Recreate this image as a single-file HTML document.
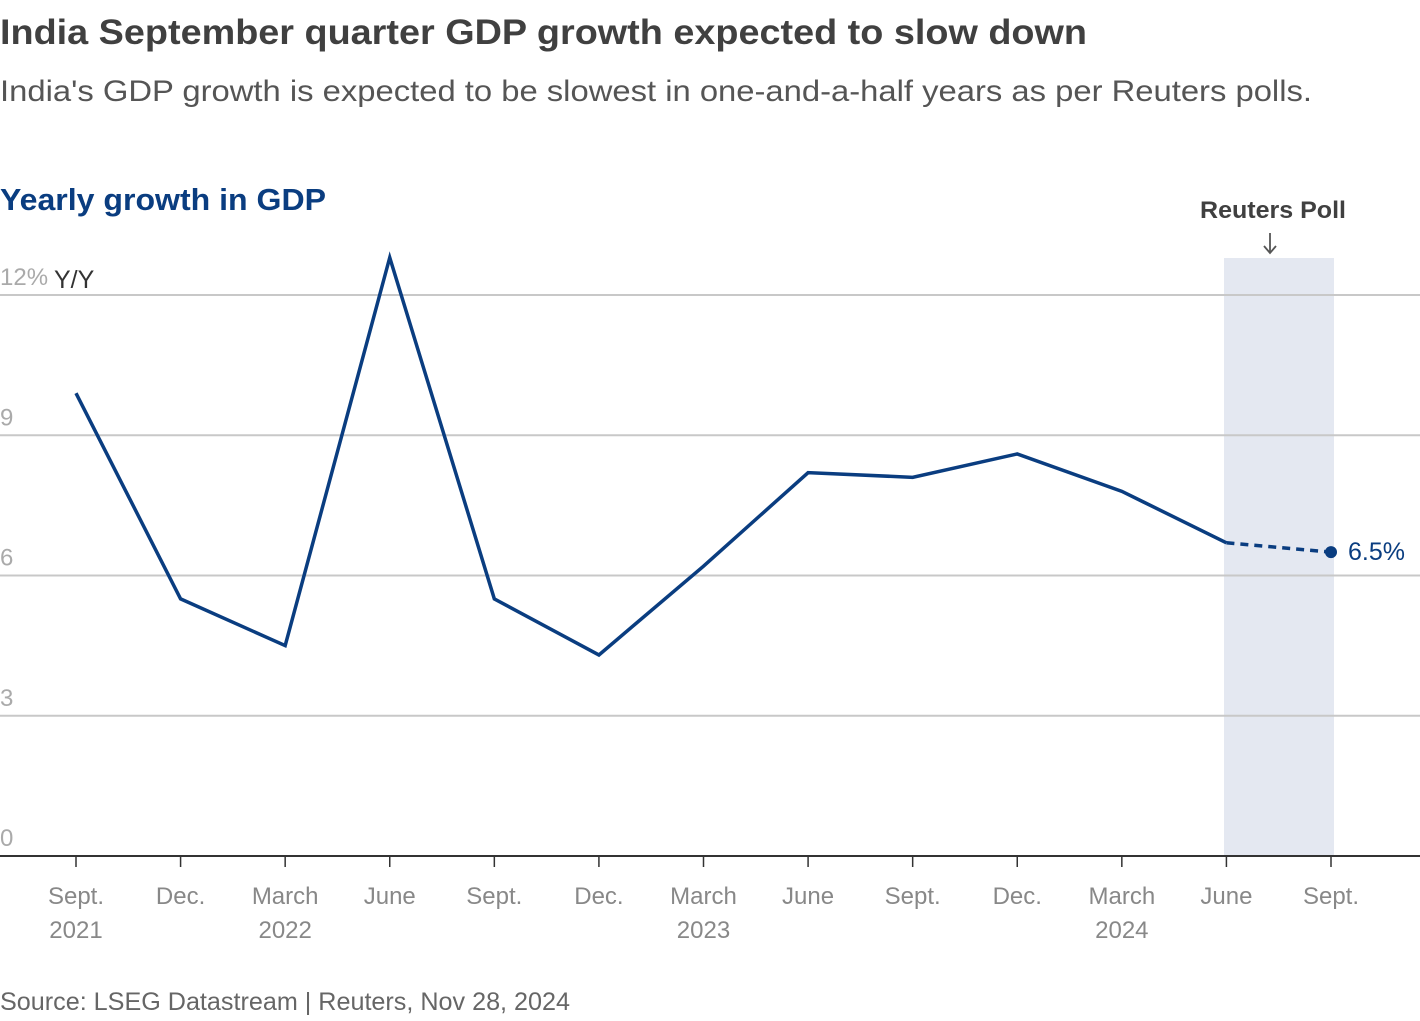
<!DOCTYPE html>
<html><head><meta charset="utf-8">
<style>
body{margin:0;background:#fff;width:1420px;height:1016px;overflow:hidden;font-family:"Liberation Sans",sans-serif;}
</style></head>
<body>
<svg width="1420" height="1016" xmlns="http://www.w3.org/2000/svg">
<text x="0" y="44" font-size="35" font-weight="bold" fill="#404040" textLength="1087" lengthAdjust="spacingAndGlyphs">India September quarter GDP growth expected to slow down</text>
<text x="0" y="101" font-size="30" fill="#555" textLength="1312" lengthAdjust="spacingAndGlyphs">India's GDP growth is expected to be slowest in one-and-a-half years as per Reuters polls.</text>
<text x="0" y="210" font-size="31" font-weight="bold" fill="#0a3d80" textLength="326" lengthAdjust="spacingAndGlyphs">Yearly growth in GDP</text>
<rect x="1224" y="258" width="110" height="598" fill="#e4e8f1"/>
<text x="1200" y="218" font-size="24" font-weight="bold" fill="#404040" textLength="146" lengthAdjust="spacingAndGlyphs">Reuters Poll</text>
<g stroke="#555" stroke-width="1.8" fill="none">
<line x1="1270" y1="233" x2="1270" y2="253"/>
<polyline points="1264,246 1270,253 1276,246"/>
</g>
<g id="grid"></g>
<g id="xaxis"></g>
<g id="series"></g>
<text x="0" y="1010" font-size="25" fill="#666" textLength="570" lengthAdjust="spacingAndGlyphs">Source: LSEG Datastream | Reuters, Nov 28, 2024</text>
</svg>
<script>
const categories=["Sept.|2021","Dec.","March|2022","June","Sept.","Dec.","March|2023","June","Sept.","Dec.","March|2024","June","Sept."];
const gdpValues=[9.9,5.5,4.5,12.8,5.5,4.3,6.2,8.2,8.1,8.6,7.8,6.7,6.5];
const yTicks=[0,3,6,9,12];
const yTickLabels=["0","3","6","9","12%"];
const pollStartIndex=11;
const NS="http://www.w3.org/2000/svg";
const x0=76,x1=1331,yBase=856,yTop=295,yMax=12;
const xs=i=>x0+(x1-x0)*i/(categories.length-1);
const ys=v=>yBase-(yBase-yTop)*v/yMax;
function mk(tag,attrs,parent){const e=document.createElementNS(NS,tag);for(const k in attrs)e.setAttribute(k,attrs[k]);parent.appendChild(e);return e;}
const grid=document.getElementById('grid');
yTicks.forEach((t,i)=>{
  if(t!==0){const l=mk('line',{x1:0,x2:1420,y1:ys(t),y2:ys(t),stroke:'#c8c8c8','stroke-width':2},grid);
  
  }
  const tx=mk('text',{x:0,y:ys(t)-10,'font-size':24,fill:'#aaa'},grid);tx.textContent=yTickLabels[i];
  
  
});
const yy=mk('text',{x:54,y:ys(12)-7,'font-size':25,fill:'#333'},grid);yy.textContent='Y/Y';


const xa=document.getElementById('xaxis');
const base=mk('line',{x1:0,x2:1420,y1:yBase,y2:yBase,stroke:'#333','stroke-width':2},xa);


categories.forEach((c,i)=>{
  const tk=mk('line',{x1:xs(i),x2:xs(i),y1:yBase,y2:yBase+11,stroke:'#333','stroke-width':1.5},xa);
  
  
  c.split('|').forEach((p,j)=>{
    const t=mk('text',{x:xs(i),y:904+j*34,'font-size':24,fill:'#888','text-anchor':'middle'},xa);t.textContent=p;
    
    
  });
});
const s=document.getElementById('series');
const solid=gdpValues.slice(0,pollStartIndex+1).map((v,i)=>xs(i)+','+ys(v)).join(' ');
const pl=mk('polyline',{points:solid,fill:'none',stroke:'#0a3d80','stroke-width':3.5,'stroke-linejoin':'miter'},s);


const dashed=gdpValues.slice(pollStartIndex).map((v,i)=>xs(i+pollStartIndex)+','+ys(v)).join(' ');
const dl=mk('polyline',{points:dashed,fill:'none',stroke:'#0a3d80','stroke-width':3.5,'stroke-dasharray':'8,6'},s);


const li=gdpValues.length-1;
const dot=mk('circle',{cx:xs(li),cy:ys(gdpValues[li]),r:6,fill:'#0a3d80'},s);


const lbl=mk('text',{x:xs(li)+17,y:ys(gdpValues[li])+8,'font-size':25,fill:'#0a3d80'},s);lbl.textContent=gdpValues[li]+'%';


</script>
</body></html>
